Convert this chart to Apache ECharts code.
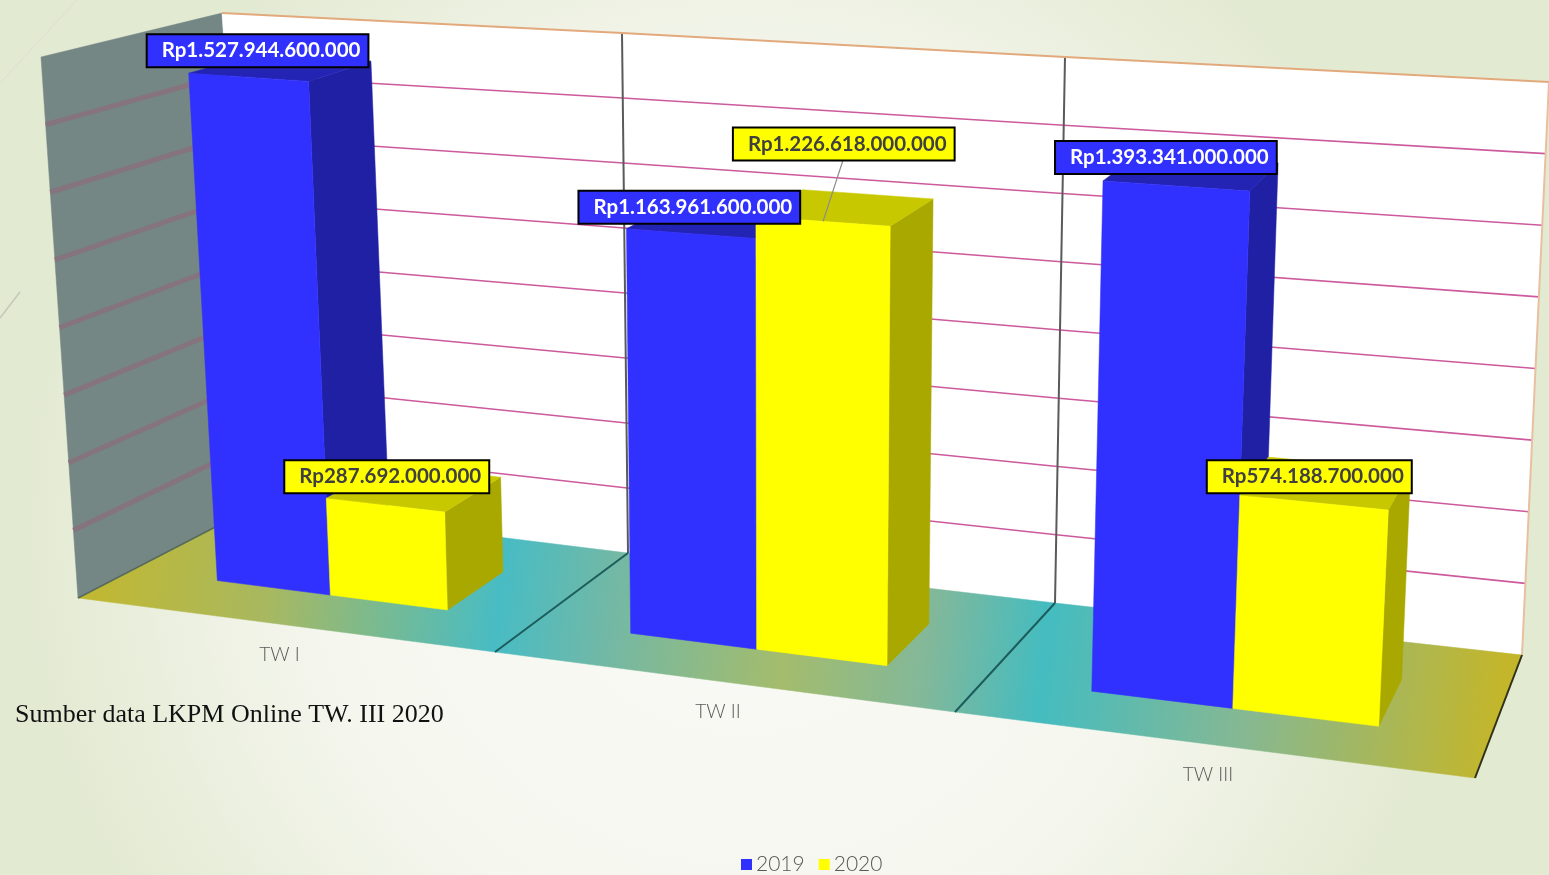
<!DOCTYPE html>
<html>
<head>
<meta charset="utf-8">
<style>html,body{margin:0;padding:0;background:#fff}#chart{width:1549px;height:875px}</style>
<script src="https://cdn.jsdelivr.net/npm/echarts@6/dist/echarts.min.js"></script>
</head>
<body>
<div id="chart"></div>
<script>
// ---- data ----
var categories = ['TW I', 'TW II', 'TW III'];
var seriesNames = ['2019', '2020'];
var values2019 = [1527944600000, 1163961600000, 1393341000000];
var values2020 = [287692000000, 1226618000000, 574188700000];
var valueTicks = [200000000000, 400000000000, 600000000000, 800000000000, 1000000000000, 1200000000000, 1400000000000];
var valueMax = 1600000000000;
var sourceNote = 'Sumber data LKPM Online TW. III 2020';

// ---- perspective frame: where the box corners fall, per category boundary ----
var frontBottom = [[78, 598], [495, 652], [955, 712], [1475, 778]];
var frontTop    = [[41, 57], [484, 89], [962, 117], [1509, 153]];
var backBottom  = [[254, 507], [628, 553], [1055, 603], [1522, 655]];
var backTop     = [[222, 13], [622, 33], [1065, 57], [1549, 82]];
var barSpan = [[0.21, 0.49], [0.49, 0.78]];
var barDepth = [0.31, 0.70];
var labelOffset2019 = [[-42, -39], [-48, -38], [-48, -40]];
var labelOffset2020 = [[-42, -38], [-23, -89], [-33, -35]];

function ctrl(arr, U, k) {
  var i = Math.min(arr.length - 2, Math.max(0, Math.floor(U)));
  var t = U - i;
  return arr[i][k] + (arr[i + 1][k] - arr[i][k]) * t;
}
function mix(a, b, t) { return a + (b - a) * t; }
// Pixel position of (category position, value, depth), via the cartesian axes.
function project(params, api, u, val, z) {
  var c = api.coord([u, val]);
  var r = params.coordSys;
  var U = (c[0] - r.x) / r.width * categories.length;
  var V = 1 - (c[1] - r.y) / r.height;
  var out = [];
  for (var k = 0; k < 2; k++) {
    var bottom = mix(ctrl(frontBottom, U, k), ctrl(backBottom, U, k), z);
    var top = mix(ctrl(frontTop, U, k), ctrl(backTop, U, k), z);
    out.push(mix(bottom, top, V));
  }
  return out;
}
function rp(v) {
  return 'Rp' + String(Math.round(v)).replace(/\B(?=(\d{3})+(?!\d))/g, '.');
}
function poly(points, fill) {
  return { type: 'polygon', shape: { points: points }, style: { fill: fill, stroke: fill, lineWidth: 0.5 } };
}
function line(points, stroke, w) {
  return { type: 'polyline', shape: { points: points }, style: { fill: 'none', stroke: stroke, lineWidth: w } };
}

var floorFill = new echarts.graphic.LinearGradient(70, 560, 1500, 720, [
  { offset: 0, color: '#c4b82c' }, { offset: 0.14, color: '#a8b860' }, { offset: 0.30, color: '#48bcc4' },
  { offset: 0.38, color: '#74b8a4' }, { offset: 0.50, color: '#a4bc6c' }, { offset: 0.60, color: '#82b89a' },
  { offset: 0.68, color: '#44bcc0' }, { offset: 0.82, color: '#84b894' }, { offset: 1, color: '#c4b62a' }
], true);

function renderScene(params, api) {
  var n = categories.length, kids = [];
  var P = function (u, v, z) { return project(params, api, u, v, z); };
  // left wall, back wall, floor
  kids.push(poly([P(0, 0, 0), P(0, valueMax, 0), P(0, valueMax, 1), P(0, 0, 1)], '#748785'));
  kids.push(poly([P(0, 0, 1), P(0, valueMax, 1), P(1, valueMax, 1), P(2, valueMax, 1), P(3, valueMax, 1), P(3, 0, 1), P(2, 0, 1), P(1, 0, 1)], '#ffffff'));
  kids.push(poly([P(0, 0, 0), P(1, 0, 0), P(2, 0, 0), P(3, 0, 0), P(3, 0, 1), P(2, 0, 1), P(1, 0, 1), P(0, 0, 1)], floorFill));
  // gridlines
  valueTicks.forEach(function (t) {
    kids.push(line([P(0, t, 0), P(0, t, 1)], '#85747e', 5));
    kids.push(line([P(0, t, 1), P(1, t, 1), P(2, t, 1), P(3, t, 1)], '#cc5a9c', 1.6));
  });
  // category dividers
  for (var i = 1; i < n; i++) {
    kids.push(line([P(i, valueMax, 1), P(i, 0, 1)], '#5a5a5a', 2));
    kids.push(line([P(i, 0, 1), P(i, 0, 0)], '#1c5c5c', 2));
  }
  // box edges
  kids.push(line([P(0, valueMax, 1), P(1, valueMax, 1), P(2, valueMax, 1), P(3, valueMax, 1)], '#e2aa7c', 2));
  kids.push(line([P(3, valueMax, 1), P(3, 0, 1)], '#e8bfa0', 2));
  kids.push(line([P(3, 0, 1), P(3, 0, 0)], '#30321c', 2));
  kids.push(line([P(0, 0, 0), P(0, 0, 1)], '#566a5c', 1.5));
  // category labels
  categories.forEach(function (name, idx) {
    var p = P(idx + 0.5, 0, 0);
    kids.push({ type: 'text', x: p[0] - 7, y: p[1] + 30, style: {
      text: name, align: 'center', verticalAlign: 'middle', fill: '#595959',
      font: '300 19px Lato, "Open Sans", sans-serif' } });
  });
  return { type: 'group', children: kids };
}

function barRenderer(seriesIdx, offsets, colours, labelFill, labelBg) {
  return function (params, api) {
    var idx = params.dataIndex;
    var val = api.value(1);
    var u0 = api.value(0) + barSpan[seriesIdx][0];
    var u1 = api.value(0) + barSpan[seriesIdx][1];
    var zf = barDepth[0], zb = barDepth[1];
    var P = function (u, v, z) { return project(params, api, u, v, z); };
    var ftl = P(u0, val, zf), ftr = P(u1, val, zf), fbl = P(u0, 0, zf), fbr = P(u1, 0, zf);
    var btl = P(u0, val, zb), btr = P(u1, val, zb), bbr = P(u1, 0, zb);
    var off = offsets[idx];
    var lx = ftl[0] + off[0], ly = ftl[1] + off[1];
    var kids = [
      poly([ftr, btr, bbr, fbr], colours.side),
      poly([ftl, btl, btr, ftr], colours.top),
      poly([ftl, ftr, fbr, fbl], colours.front)
    ];
    if (off[1] < -60) {
      var mid = P((u0 + u1) / 2, val, zf);
      var leader = line([[lx + 110, ly + 33], mid], '#8c8c8c', 1.2);
      leader.z2 = 90;
      kids.push(leader);
    }
    kids.push({ type: 'text', x: lx + 1, y: ly + 1, z2: 100, style: {
      text: rp(val), align: 'left', verticalAlign: 'top', fill: labelFill,
      font: 'bold 20.5px Lato, "Open Sans", sans-serif',
      backgroundColor: labelBg, borderColor: '#000000', borderWidth: 2,
      padding: [5, 7, 5, 14] } });
    return { type: 'group', children: kids };
  };
}
function rows(vals) { return vals.map(function (v, i) { return [i, v]; }); }

var chart = echarts.init(document.getElementById('chart'), null, { width: 1549, height: 875 });
chart.setOption({
  animation: false,
  backgroundColor: new echarts.graphic.RadialGradient(0.48, 0.6, 0.82, [
    { offset: 0, color: '#fbfbf8' }, { offset: 0.6, color: '#f5f6ee' }, { offset: 1, color: '#e3ead2' }
  ]),
  title: { text: sourceNote, left: 15, top: 702, padding: 0,
    textStyle: { fontFamily: '"Liberation Serif", serif', fontWeight: 'normal', fontSize: 26, color: '#111111' } },
  legend: { data: seriesNames, left: 741, top: 854, itemWidth: 11, itemHeight: 11, itemGap: 14, icon: 'rect',
    padding: 0, textStyle: { color: '#595959', fontSize: 21, fontFamily: 'Lato, "Open Sans", sans-serif', fontWeight: 300, padding: [0, 0, 0, -1] } },
  grid: { left: 0, right: 0, top: 0, bottom: 0, containLabel: false },
  xAxis: { type: 'value', min: 0, max: categories.length, show: false },
  yAxis: { type: 'value', min: 0, max: valueMax, show: false },
  graphic: [
    { type: 'line', shape: { x1: 0, y1: 83, x2: 77, y2: 0 }, style: { stroke: '#dfe3d2', lineWidth: 1.5 }, silent: true },
    { type: 'line', shape: { x1: 0, y1: 318, x2: 20, y2: 292 }, style: { stroke: '#c4c8b8', lineWidth: 1.5 }, silent: true }
  ],
  series: [
    { type: 'custom', name: 'scene', silent: true, clip: false, z: 1, data: [[0, 0]], renderItem: renderScene },
    { type: 'custom', name: seriesNames[0], clip: false, z: 2, itemStyle: { color: '#3030ff' }, data: rows(values2019),
      encode: { x: 0, y: 1 },
      renderItem: barRenderer(0, labelOffset2019, { front: '#3030ff', top: '#2424b4', side: '#2020a4' }, '#ffffff', '#3030ff') },
    { type: 'custom', name: seriesNames[1], clip: false, z: 2, itemStyle: { color: '#ffff00' }, data: rows(values2020),
      encode: { x: 0, y: 1 },
      renderItem: barRenderer(1, labelOffset2020, { front: '#ffff00', top: '#c8c800', side: '#a8a800' }, '#404040', '#ffff00') }
  ]
});
</script>
</body>
</html>
